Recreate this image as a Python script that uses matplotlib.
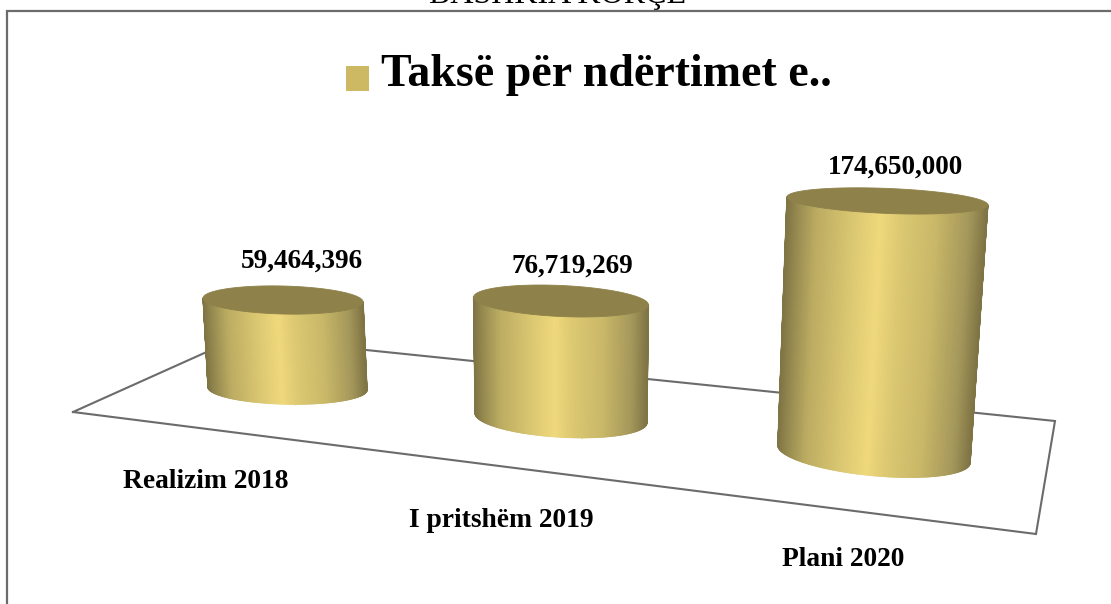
import numpy as np
import matplotlib
matplotlib.use("Agg")
import matplotlib.pyplot as plt
from matplotlib.colors import LinearSegmentedColormap
from matplotlib.collections import LineCollection

# --- data ---
categories = ["Realizim 2018", "I pritshëm 2019", "Plani 2020"]
values = [59464396, 76719269, 174650000]
series_name = "Taksë për ndërtimet e.."
page_heading = "BASHKIA KORÇË"

# --- 3D projection of each cylinder, in picture units ---
base_x = [287.5, 561.0, 874.0]
base_y = [388.5, 418.0, 454.0]
px_per_million = [1.488, 1.525, 1.449]
lean = [-0.05, 0.0, 0.053]
base_a = [79.5, 86.0, 96.5]
top_a = [80.0, 87.5, 100.5]
base_b = [15.5, 19.0, 21.5]
top_b = [14.0, 15.5, 12.5]
base_tilt = [1.1, 3.3, 5.4]
top_tilt = [1.4, 2.6, 2.3]

floor_x = [73, 240, 1055, 1036, 73]
floor_y = [412, 337, 421, 534, 412]

label_pos = [(206, 488), (501, 527), (843, 566)]
value_pos = [(302, 268), (572, 273), (896, 174)]

SERIF = "Liberation Serif"
GREY = "#6b6b6b"
side_cmap = LinearSegmentedColormap.from_list("gold", [
    (0.00, "#807545"), (0.08, "#a3965a"), (0.25, "#c9b868"), (0.42, "#dcc872"),
    (0.53, "#f0d97c"), (0.68, "#d9c671"), (0.85, "#bcac62"), (0.95, "#958950"),
    (1.00, "#7f7444")])

fig = plt.figure(figsize=(11.11, 6.04), dpi=100, facecolor="white")
ax = fig.add_axes([0, 0, 1, 1])
ax.set_xlim(0, 1111)
ax.set_ylim(604, 0)
ax.axis("off")

# chart frame: only left and top are inside the crop
ax.plot([7, 7, 1111], [604, 10.5, 10.5], color=GREY, lw=1.6, solid_joinstyle="miter", zorder=1)
ax.text(558, 3, page_heading, family=SERIF, fontsize=23, ha="center", va="baseline", color="black", zorder=0)

# title / legend entry
ax.fill([346, 369, 369, 346], [66, 66, 91, 91], color="#cdb864", lw=0, zorder=3)
ax.text(381, 86, series_name, family=SERIF, weight="bold", fontsize=33, ha="left", va="baseline", color="black")

# floor
ax.plot(floor_x, floor_y, color=GREY, lw=1.5, solid_joinstyle="miter", zorder=2)


def ellipse_pts(cx, cy, a, b, tilt_deg, t):
    r = np.radians(tilt_deg)
    x = cx + a * np.cos(t) * np.cos(r) - b * np.sin(t) * np.sin(r)
    y = cy + a * np.cos(t) * np.sin(r) + b * np.sin(t) * np.cos(r)
    return x, y


for i, v in enumerate(values):
    h = v / 1e6 * px_per_million[i]
    tx = base_x[i] + lean[i] * h
    ty = base_y[i] - h
    t = np.linspace(np.pi, 0, 241)
    xb, yb = ellipse_pts(base_x[i], base_y[i], base_a[i], base_b[i], base_tilt[i], t)
    xt, yt = ellipse_pts(tx, ty, top_a[i], top_b[i], top_tilt[i], t)
    s = (1 - np.cos(t)) / 2
    X = np.vstack([xt, xb])
    Y = np.vstack([yt, yb])
    C = np.vstack([s, s])
    ax.pcolormesh(X, Y, C, cmap=side_cmap, vmin=0, vmax=1, shading="gouraud", zorder=4, rasterized=True)

    # soften the mesh silhouette with a thin antialiased outline
    pts = np.column_stack([xb, yb]).reshape(-1, 1, 2)
    segs = np.concatenate([pts[:-1], pts[1:]], axis=1)
    ax.add_collection(LineCollection(segs, array=(s[:-1] + s[1:]) / 2, cmap=side_cmap, norm=plt.Normalize(0, 1),
                                     linewidths=1.0, zorder=4.5))
    ax.plot([xt[0], xb[0]], [yt[0], yb[0]], color=side_cmap(0.0), lw=1.0, zorder=4.5)
    ax.plot([xt[-1], xb[-1]], [yt[-1], yb[-1]], color=side_cmap(1.0), lw=1.0, zorder=4.5)

    tt = np.linspace(0, 2 * np.pi, 241)
    xe, ye = ellipse_pts(tx, ty, top_a[i], top_b[i], top_tilt[i], tt)
    ax.fill(xe, ye, color="#8e8149", lw=0.6, zorder=5)

    ax.text(*value_pos[i], f"{v:,}", family=SERIF, weight="bold", fontsize=19.5, ha="center", va="baseline", color="black", zorder=6)
    ax.text(*label_pos[i], categories[i], family=SERIF, weight="bold", fontsize=19.8, ha="center", va="baseline", color="black", zorder=6)

fig.savefig("out.png", dpi=100, facecolor="white")
